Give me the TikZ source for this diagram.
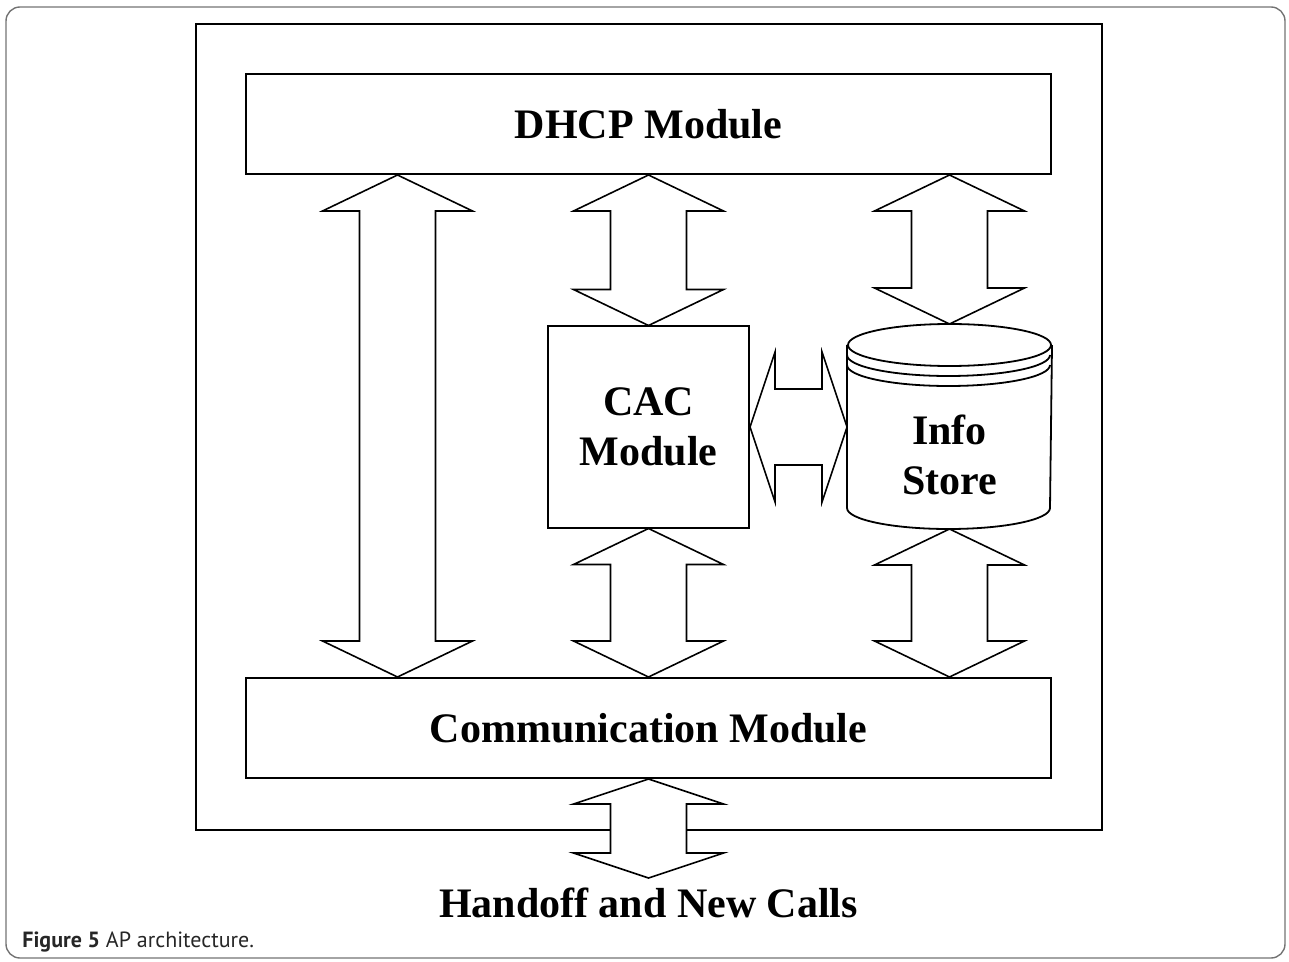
\documentclass[tikz,border=0pt]{standalone}
\usepackage{fontspec}
\setmainfont{Liberation Serif}
\newfontfamily\capfont{PT Sans}
\usetikzlibrary{calc}
\tikzset{modstyle/.style = {rectangle, draw, line width=1pt, inner sep=0pt, align=center,
          font=\fontsize{21}{25}\selectfont\bfseries},
	dblarrow/.style = {draw, fill=white, line width=0.8pt, line join=miter},
	framestyle/.style = {draw=black!55, line width=0.7pt, rounded corners=7pt}}

% vertical block arrow with two heads, from #2 (top) to #3 (bottom)
\newcommand{\vdbl}[3][18pt]{%
  \draw[dblarrow] let \p1 = #2, \p2 = #3 in
    (\x1,\y1) -- (\x1+37.5pt,\y1-#1) -- (\x1+19pt,\y1-#1) -- (\x1+19pt,\y2+#1)
    -- (\x1+37.5pt,\y2+#1) -- (\x1,\y2) -- (\x1-37.5pt,\y2+#1) -- (\x1-19pt,\y2+#1)
    -- (\x1-19pt,\y1-#1) -- (\x1-37.5pt,\y1-#1) -- cycle;}
% horizontal block arrow with two heads, from #2 (left) to #3 (right)
\newcommand{\hdbl}[3][12.5pt]{%
  \draw[dblarrow] let \p1 = #2, \p2 = #3 in
    (\x1,\y1) -- (\x1+#1,\y1+37.5pt) -- (\x1+#1,\y1+19pt) -- (\x2-#1,\y1+19pt)
    -- (\x2-#1,\y1+37.5pt) -- (\x2,\y1) -- (\x2-#1,\y1-37.5pt) -- (\x2-#1,\y1-19pt)
    -- (\x1+#1,\y1-19pt) -- (\x1+#1,\y1-37.5pt) -- cycle;}

\begin{document}
\begin{tikzpicture}[x=0.5pt, y=-0.5pt]
 \useasboundingbox (0,0) rectangle (1289,962);
 \draw[framestyle] (6,7) rectangle (1285,958);

 \node (ap) at (649,427) [modstyle, minimum width=453pt, minimum height=403pt] {};
 \node (dhcp) at (648.5,124) [modstyle, minimum width=402.5pt, minimum height=50pt] {DHCP Module};
 \node (comm) at (648.5,728) [modstyle, minimum width=402.5pt, minimum height=50pt] {Communication Module};
 \node (cac) at (648.5,427) [modstyle, minimum width=100.5pt, minimum height=100.5pt] {CAC\\Module};
 \node (info) at (949.5,426.5) [modstyle, draw=none, minimum width=101.5pt, minimum height=101.5pt,
   label={[yshift=-14pt, align=center, font=\fontsize{21}{25}\selectfont\bfseries]center:Info\\Store}] {};
 \node (calls) at (648.5,878) [anchor=north, inner xsep=0pt, inner ysep=5pt,
   font=\fontsize{21}{25}\selectfont\bfseries] {Handoff and New Calls};
 \coordinate (lcol) at (397.5,400);

 % the store
 \draw[line width=0.9pt] ([yshift=-10.5pt]info.north) ellipse [x radius=50.75pt, y radius=10.5pt];
 \draw[line width=0.9pt] ([yshift=-10.5pt]info.north west) -- ([yshift=10.5pt]info.south west)
   arc [start angle=180, end angle=360, x radius=50.75pt, y radius=10.5pt]
   -- ([yshift=-10.5pt]info.north east);
 \draw[line width=0.9pt] ([yshift=-15.5pt]info.north west) arc [start angle=180, end angle=360, x radius=50.75pt, y radius=10.5pt];
 \draw[line width=0.9pt] ([yshift=-20.5pt]info.north west) arc [start angle=180, end angle=360, x radius=50.75pt, y radius=10.5pt];

 \vdbl{(dhcp.south -| lcol)}{(comm.north -| lcol)}
 \vdbl{(dhcp.south)}{(cac.north)}
 \vdbl{(dhcp.south -| info.north)}{(info.north)}
 \vdbl{(cac.south)}{(comm.north)}
 \vdbl{(info.south)}{(comm.north -| info.south)}
 \hdbl{(cac.east)}{(info.west)}
 \vdbl[12.5pt]{(comm.south)}{(calls.north)}

 \node (caption) at (22,942) [anchor=west, inner sep=0pt, text=black!85,
   font=\capfont\fontsize{11}{13}\selectfont] {\textbf{Figure 5} AP architecture.};
\end{tikzpicture}
\end{document}
